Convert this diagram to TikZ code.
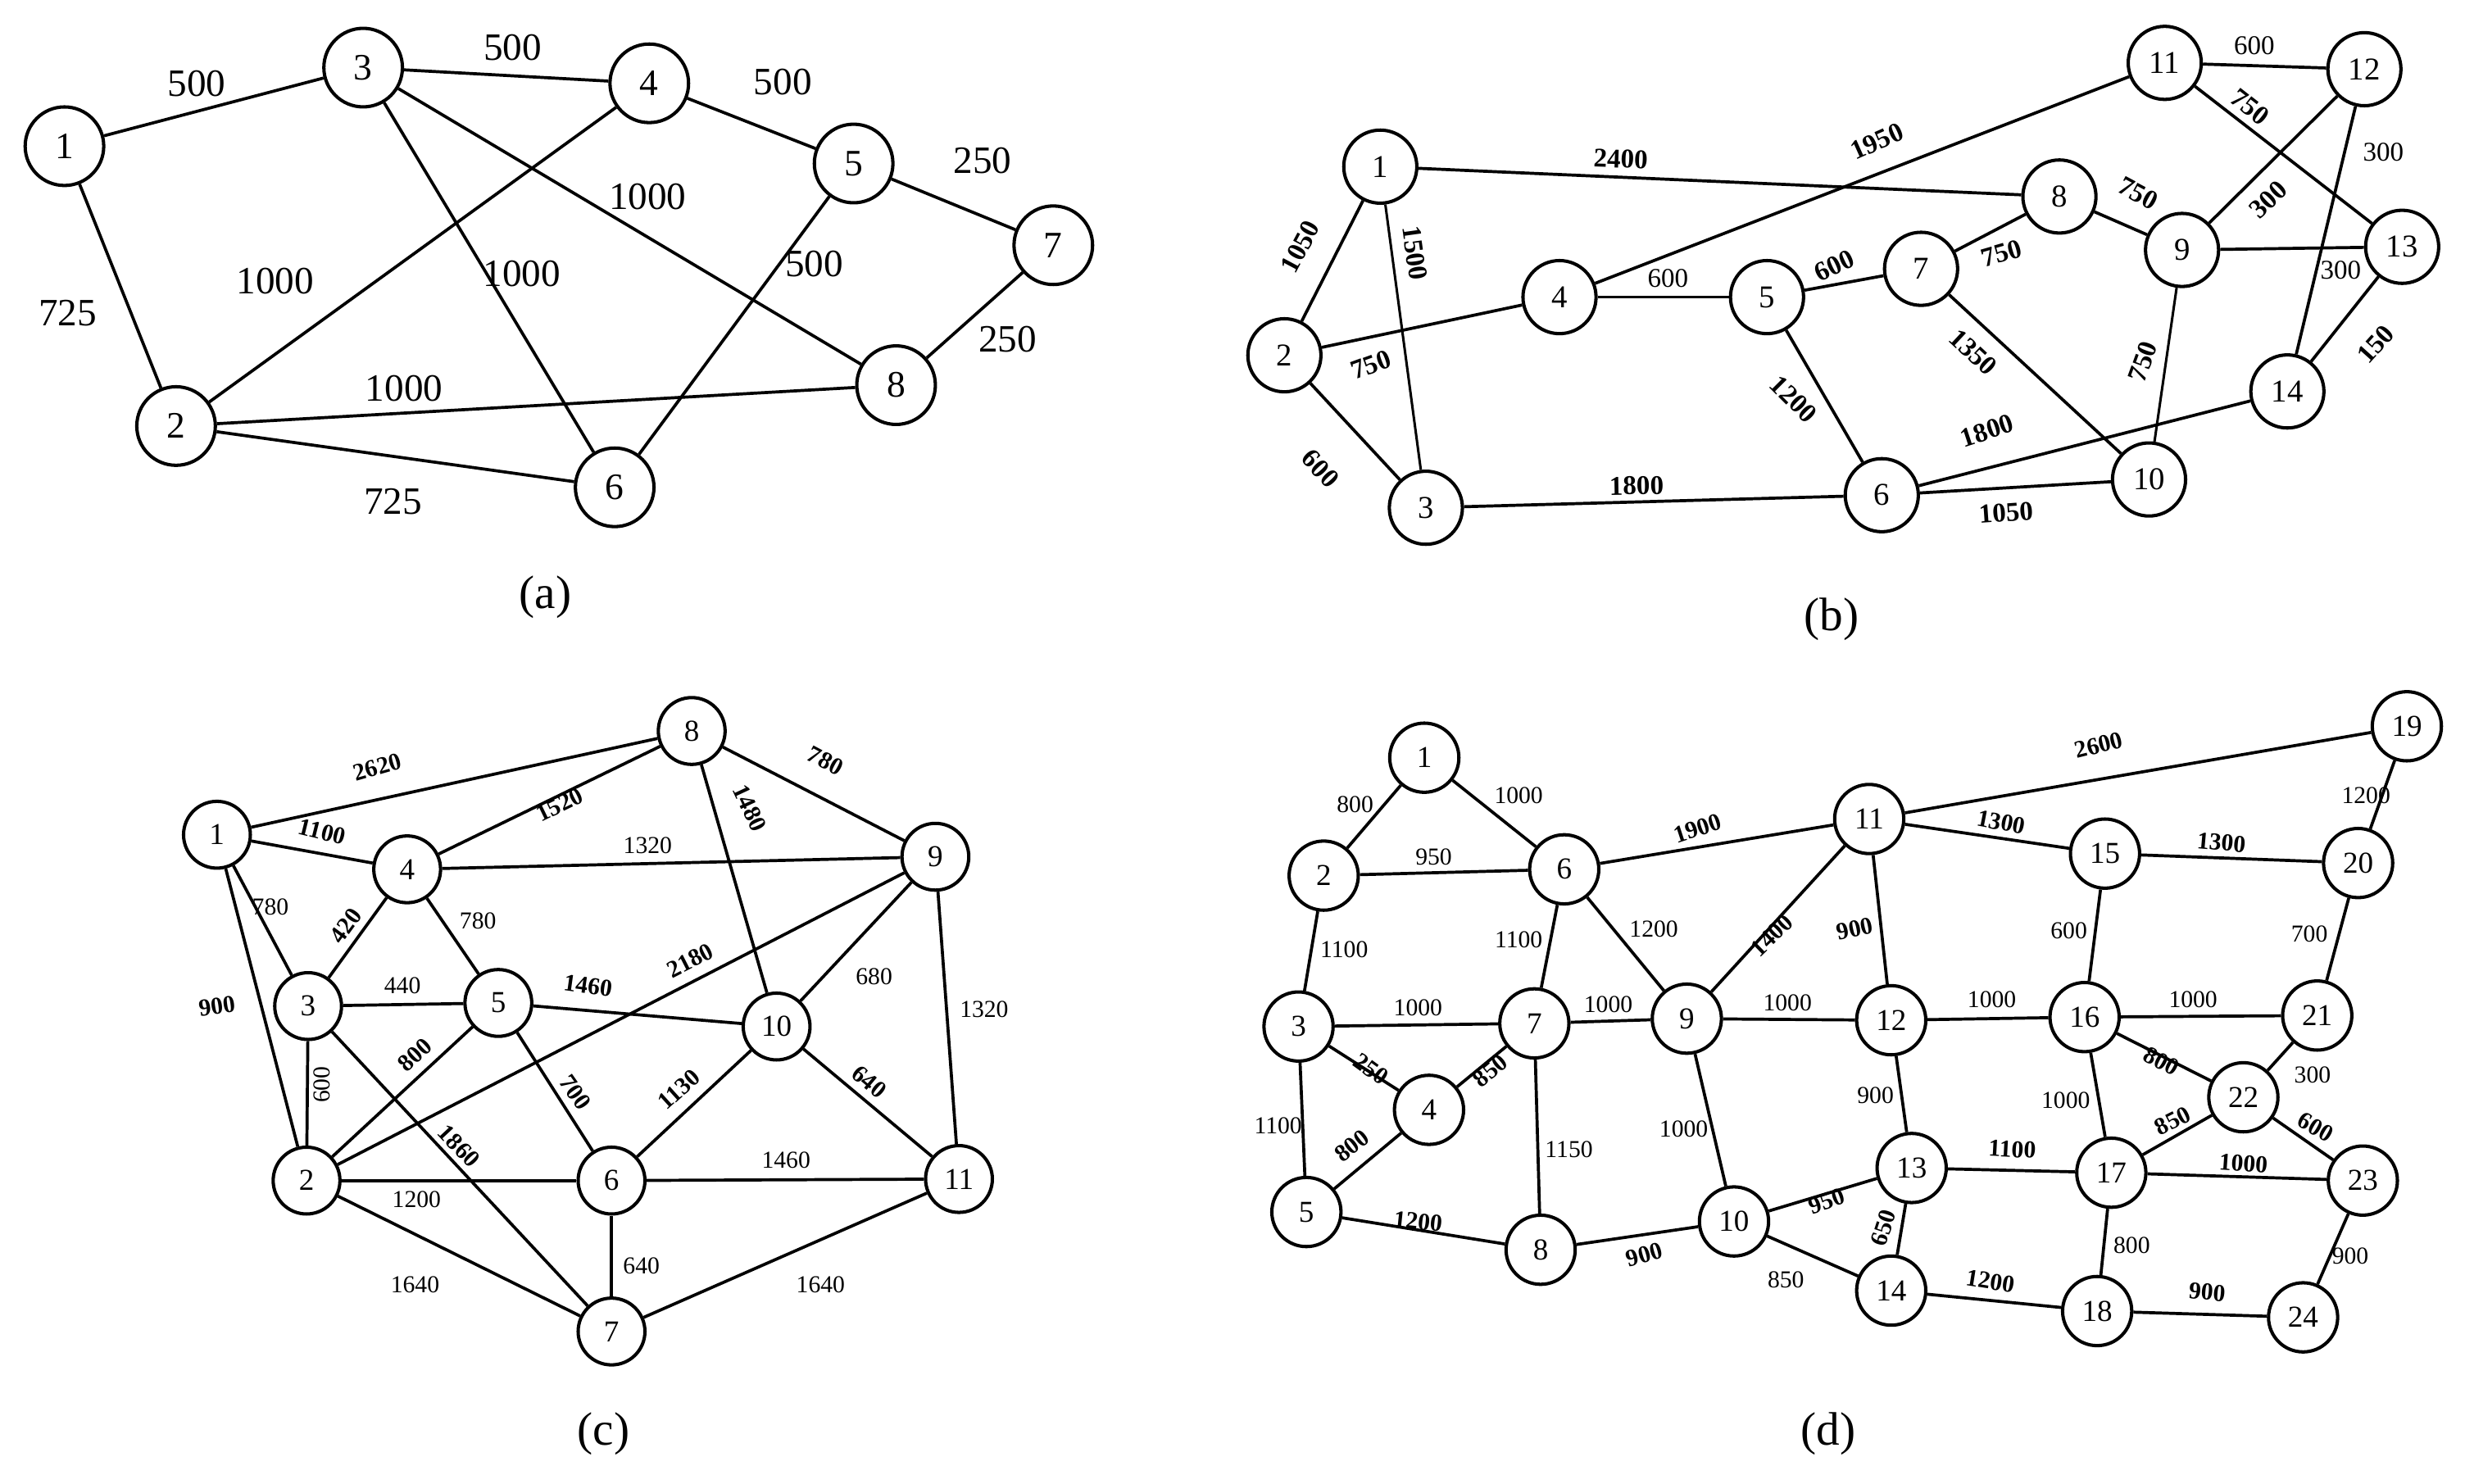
\documentclass[tikz,border=0pt]{standalone}
\usepackage{fontspec}
\setmainfont{Liberation Serif}
\usepackage{tikz}
\usetikzlibrary{positioning}
\tikzstyle{edge} = [line width=1.1pt]
\tikzstyle{vxa} = [circle, draw, line width=1.2pt, minimum size=1cm, inner sep=0pt, font=\fontsize{13.5}{14}\selectfont]
\tikzstyle{vxb} = [circle, draw, line width=1.2pt, minimum size=0.93cm, inner sep=0pt, font=\fontsize{11.5}{12}\selectfont]
\tikzstyle{vxc} = [circle, draw, line width=1.2pt, minimum size=0.85cm, inner sep=0pt, font=\fontsize{11}{12}\selectfont]
\tikzstyle{vxd} = [circle, draw, line width=1.2pt, minimum size=0.88cm, inner sep=0pt, font=\fontsize{11}{12}\selectfont]
\tikzstyle{wa} = [inner sep=1pt, font=\fontsize{14}{14}\selectfont]
\tikzstyle{wb} = [inner sep=1pt, font=\fontsize{9.8}{10}\selectfont]
\tikzstyle{wbb} = [inner sep=1pt, font=\fontsize{9.8}{10}\selectfont\bfseries]
\tikzstyle{wc} = [inner sep=1pt, font=\fontsize{8.8}{9}\selectfont]
\tikzstyle{wcb} = [inner sep=1pt, font=\fontsize{8.8}{9}\selectfont\bfseries]
\tikzstyle{caption} = [font=\fontsize{17}{18}\selectfont]

\begin{document}
\begin{tikzpicture}[x=0.02cm, y=-0.02cm]
\useasboundingbox (0, 0) rectangle (1568, 944);

\node [vxa] (a1) at (41, 93) {1};
\node [vxa] (a2) at (112, 271) {2};
\node [vxa] (a3) at (231, 43) {3};
\node [vxa] (a4) at (413, 53) {4};
\node [vxa] (a5) at (543, 104) {5};
\node [vxa] (a6) at (391, 310) {6};
\node [vxa] (a7) at (670, 156) {7};
\node [vxa] (a8) at (570, 245) {8};

\draw [edge] (a1) to (a3);
\draw [edge] (a3) to (a4);
\draw [edge] (a4) to (a5);
\draw [edge] (a5) to (a7);
\draw [edge] (a7) to (a8);
\draw [edge] (a3) to (a8);
\draw [edge] (a5) to (a6);
\draw [edge] (a3) to (a6);
\draw [edge] (a2) to (a4);
\draw [edge] (a1) to (a2);
\draw [edge] (a2) to (a8);
\draw [edge] (a2) to (a6);

\node [wa] (wa1x3) at (125, 53) {500};
\node [wa] (wa3x4) at (326, 30) {500};
\node [wa] (wa4x5) at (498, 52) {500};
\node [wa] (wa5x7) at (625, 102) {250};
\node [wa] (wa3x8) at (412, 125) {1000};
\node [wa] (wa5x6) at (518, 168) {500};
\node [wa] (wa7x8) at (641, 216) {250};
\node [wa] (wa2x4) at (175, 179) {1000};
\node [wa] (wa3x6) at (332, 174) {1000};
\node [wa] (wa1x2) at (43, 199) {725};
\node [wa] (wa2x8) at (257, 247) {1000};
\node [wa] (wa2x6) at (250, 319) {725};
\node [caption] (capa) at (347, 380) {(a)};

\node [vxb] (b1) at (878, 106) {1};
\node [vxb] (b2) at (817, 226) {2};
\node [vxb] (b3) at (907, 323) {3};
\node [vxb] (b4) at (992, 189) {4};
\node [vxb] (b5) at (1124, 189) {5};
\node [vxb] (b6) at (1197, 315) {6};
\node [vxb] (b7) at (1222, 171) {7};
\node [vxb] (b8) at (1310, 125) {8};
\node [vxb] (b9) at (1388, 159) {9};
\node [vxb] (b10) at (1367, 305) {10};
\node [vxb] (b11) at (1377, 40) {11};
\node [vxb] (b12) at (1504, 44) {12};
\node [vxb] (b13) at (1528, 157) {13};
\node [vxb] (b14) at (1455, 249) {14};

\draw [edge] (b1) to (b8);
\draw [edge] (b1) to (b2);
\draw [edge, line width=0.9pt] (b1) to (b3);
\draw [edge] (b2) to (b4);
\draw [edge] (b2) to (b3);
\draw [edge] (b4) to (b11);
\draw [edge] (b4) to (b5);
\draw [edge] (b5) to (b7);
\draw [edge] (b7) to (b8);
\draw [edge] (b8) to (b9);
\draw [edge] (b7) to (b10);
\draw [edge] (b5) to (b6);
\draw [edge] (b3) to (b6);
\draw [edge] (b6) to (b14);
\draw [edge] (b6) to (b10);
\draw [edge, line width=0.9pt] (b9) to (b10);
\draw [edge] (b9) to (b13);
\draw [edge] (b9) to (b12);
\draw [edge] (b11) to (b12);
\draw [edge] (b11) to (b13);
\draw [edge] (b12) to (b14);
\draw [edge] (b13) to (b14);

\node [wbb, rotate=-2] (wb1x8) at (1031, 101) {2400};
\node [wbb, rotate=24] (wb4x11) at (1194, 90) {1950};
\node [wbb, rotate=62] (wb1x2) at (827, 157) {1050};
\node [wbb, rotate=-82] (wb1x3) at (900, 161) {1500};
\node [wbb, rotate=20] (wb2x4) at (872, 232) {750};
\node [wbb, rotate=-47] (wb2x3) at (840, 298) {600};
\node [wb] (wb4x5) at (1061, 177) {600};
\node [wbb, rotate=25] (wb5x7) at (1167, 169) {600};
\node [wbb, rotate=-45] (wb5x6) at (1141, 254) {1200};
\node [wbb, rotate=1] (wb3x6) at (1041, 309) {1800};
\node [wbb, rotate=16] (wb7x8) at (1273, 161) {750};
\node [wbb, rotate=-28] (wb8x9) at (1360, 123) {750};
\node [wbb, rotate=-43] (wb7x10) at (1255, 224) {1350};
\node [wbb, rotate=70] (wb9x10) at (1363, 230) {750};
\node [wbb, rotate=18] (wb6x14) at (1264, 274) {1800};
\node [wbb, rotate=4] (wb6x10) at (1276, 326) {1050};
\node [wb] (wb11x12) at (1434, 29) {600};
\node [wbb, rotate=-38] (wb11x13) at (1431, 68) {750};
\node [wbb, rotate=44] (wb9x12) at (1443, 127) {300};
\node [wb] (wb12x14) at (1516, 97) {300};
\node [wb] (wb9x13) at (1489, 172) {300};
\node [wbb, rotate=48] (wb13x14) at (1511, 219) {150};
\node [caption] (capb) at (1165, 394) {(b)};

\node [vxc] (c1) at (138, 531) {1};
\node [vxc] (c2) at (195, 751) {2};
\node [vxc] (c3) at (196, 640) {3};
\node [vxc] (c4) at (259, 553) {4};
\node [vxc] (c5) at (317, 638) {5};
\node [vxc] (c6) at (389, 751) {6};
\node [vxc] (c7) at (389, 847) {7};
\node [vxc] (c8) at (440, 465) {8};
\node [vxc] (c9) at (595, 545) {9};
\node [vxc] (c10) at (494, 653) {10};
\node [vxc] (c11) at (610, 750) {11};

\draw [edge] (c1) to (c8);
\draw [edge] (c1) to (c4);
\draw [edge] (c1) to (c3);
\draw [edge] (c1) to (c2);
\draw [edge] (c4) to (c8);
\draw [edge] (c4) to (c9);
\draw [edge] (c3) to (c4);
\draw [edge] (c4) to (c5);
\draw [edge] (c8) to (c9);
\draw [edge] (c8) to (c10);
\draw [edge] (c3) to (c5);
\draw [edge] (c2) to (c3);
\draw [edge] (c3) to (c7);
\draw [edge] (c5) to (c10);
\draw [edge] (c2) to (c5);
\draw [edge] (c5) to (c6);
\draw [edge] (c2) to (c9);
\draw [edge] (c9) to (c10);
\draw [edge] (c9) to (c11);
\draw [edge] (c6) to (c10);
\draw [edge] (c10) to (c11);
\draw [edge] (c2) to (c6);
\draw [edge] (c2) to (c7);
\draw [edge] (c6) to (c11);
\draw [edge] (c6) to (c7);
\draw [edge] (c7) to (c11);

\node [wcb, rotate=16] (wc1x8) at (240, 488) {2620};
\node [wcb, rotate=-14] (wc1x4) at (205, 529) {1100};
\node [wcb, rotate=26] (wc4x8) at (356, 512) {1520};
\node [wcb, rotate=-65] (wc8x10) at (477, 514) {1480};
\node [wcb, rotate=-28] (wc8x9) at (525, 484) {780};
\node [wc] (wc4x9) at (412, 538) {1320};
\node [wc] (wc1x3) at (172, 577) {780};
\node [wcb, rotate=54] (wc3x4) at (220, 589) {420};
\node [wc] (wc4x5) at (304, 586) {780};
\node [wcb, rotate=8] (wc1x2) at (138, 640) {900};
\node [wc] (wc3x5) at (256, 627) {440};
\node [wcb, rotate=-8] (wc5x10) at (374, 627) {1460};
\node [wcb, rotate=27] (wc2x9) at (439, 611) {2180};
\node [wc] (wc9x10) at (556, 621) {680};
\node [wc] (wc9x11) at (626, 642) {1320};
\node [wc, rotate=90] (wc2x3) at (205, 690) {600};
\node [wcb, rotate=43] (wc2x5) at (264, 671) {800};
\node [wcb, rotate=-47] (wc3x7) at (292, 729) {1860};
\node [wcb, rotate=-55] (wc5x6) at (366, 695) {700};
\node [wcb, rotate=42] (wc6x10) at (432, 693) {1130};
\node [wcb, rotate=-40] (wc10x11) at (553, 688) {640};
\node [wc] (wc6x11) at (500, 738) {1460};
\node [wc] (wc2x6) at (265, 763) {1200};
\node [wc] (wc2x7) at (264, 817) {1640};
\node [wc] (wc6x7) at (408, 805) {640};
\node [wc] (wc7x11) at (522, 817) {1640};
\node [caption] (capc) at (384, 912) {(c)};

\node [vxd] (d1) at (906, 482) {1};
\node [vxd] (d2) at (842, 557) {2};
\node [vxd] (d3) at (826, 653) {3};
\node [vxd] (d4) at (909, 706) {4};
\node [vxd] (d5) at (831, 771) {5};
\node [vxd] (d6) at (995, 553) {6};
\node [vxd] (d7) at (976, 651) {7};
\node [vxd] (d8) at (980, 795) {8};
\node [vxd] (d9) at (1073, 648) {9};
\node [vxd] (d10) at (1103, 777) {10};
\node [vxd] (d11) at (1189, 521) {11};
\node [vxd] (d12) at (1203, 649) {12};
\node [vxd] (d13) at (1216, 743) {13};
\node [vxd] (d14) at (1203, 821) {14};
\node [vxd] (d15) at (1339, 543) {15};
\node [vxd] (d16) at (1326, 647) {16};
\node [vxd] (d17) at (1343, 746) {17};
\node [vxd] (d18) at (1334, 834) {18};
\node [vxd] (d19) at (1531, 462) {19};
\node [vxd] (d20) at (1500, 549) {20};
\node [vxd] (d21) at (1474, 646) {21};
\node [vxd] (d22) at (1427, 698) {22};
\node [vxd] (d23) at (1503, 751) {23};
\node [vxd] (d24) at (1465, 838) {24};

\draw [edge] (d1) to (d2);
\draw [edge] (d1) to (d6);
\draw [edge] (d2) to (d6);
\draw [edge] (d2) to (d3);
\draw [edge] (d6) to (d11);
\draw [edge] (d6) to (d7);
\draw [edge] (d6) to (d9);
\draw [edge] (d11) to (d19);
\draw [edge] (d11) to (d15);
\draw [edge] (d9) to (d11);
\draw [edge] (d11) to (d12);
\draw [edge] (d15) to (d20);
\draw [edge] (d19) to (d20);
\draw [edge] (d15) to (d16);
\draw [edge] (d20) to (d21);
\draw [edge] (d3) to (d7);
\draw [edge] (d3) to (d4);
\draw [edge] (d3) to (d5);
\draw [edge] (d7) to (d9);
\draw [edge] (d4) to (d7);
\draw [edge] (d7) to (d8);
\draw [edge] (d4) to (d5);
\draw [edge] (d5) to (d8);
\draw [edge] (d8) to (d10);
\draw [edge] (d9) to (d12);
\draw [edge] (d9) to (d10);
\draw [edge] (d10) to (d13);
\draw [edge] (d10) to (d14);
\draw [edge] (d12) to (d16);
\draw [edge] (d12) to (d13);
\draw [edge] (d13) to (d17);
\draw [edge] (d13) to (d14);
\draw [edge] (d16) to (d21);
\draw [edge] (d16) to (d22);
\draw [edge] (d16) to (d17);
\draw [edge] (d21) to (d22);
\draw [edge] (d17) to (d22);
\draw [edge] (d22) to (d23);
\draw [edge] (d17) to (d23);
\draw [edge] (d17) to (d18);
\draw [edge] (d14) to (d18);
\draw [edge] (d18) to (d24);
\draw [edge] (d23) to (d24);

\node [wc] (wd1x2) at (862, 512) {800};
\node [wc] (wd1x6) at (966, 506) {1000};
\node [wc] (wd2x6) at (912, 545) {950};
\node [wcb, rotate=18] (wd6x11) at (1080, 527) {1900};
\node [wcb, rotate=14] (wd11x19) at (1335, 474) {2600};
\node [wc] (wd19x20) at (1505, 506) {1200};
\node [wcb, rotate=-11] (wd11x15) at (1273, 523) {1300};
\node [wcb, rotate=-5] (wd15x20) at (1413, 536) {1300};
\node [wc] (wd2x3) at (855, 604) {1100};
\node [wc] (wd6x7) at (966, 598) {1100};
\node [wc] (wd6x9) at (1052, 591) {1200};
\node [wcb, rotate=44] (wd9x11) at (1127, 595) {1400};
\node [wcb, rotate=12] (wd11x12) at (1180, 591) {900};
\node [wc] (wd15x16) at (1316, 592) {600};
\node [wc] (wd20x21) at (1469, 594) {700};
\node [wc] (wd3x7) at (902, 641) {1000};
\node [wc] (wd7x9) at (1023, 639) {1000};
\node [wc] (wd9x12) at (1137, 638) {1000};
\node [wc] (wd12x16) at (1267, 636) {1000};
\node [wc] (wd16x21) at (1395, 636) {1000};
\node [wcb, rotate=-36] (wd3x4) at (872, 680) {250};
\node [wcb, rotate=40] (wd4x7) at (948, 681) {850};
\node [wcb, rotate=-28] (wd16x22) at (1375, 675) {800};
\node [wc] (wd21x22) at (1471, 684) {300};
\node [wc] (wd12x13) at (1193, 697) {900};
\node [wc] (wd16x17) at (1314, 700) {1000};
\node [wc] (wd3x5) at (813, 716) {1100};
\node [wc] (wd7x8) at (998, 731) {1150};
\node [wc] (wd9x10) at (1071, 718) {1000};
\node [wcb, rotate=27] (wd17x22) at (1382, 713) {850};
\node [wcb, rotate=-30] (wd22x23) at (1473, 717) {600};
\node [wcb, rotate=38] (wd4x5) at (860, 729) {800};
\node [wcb, rotate=-3] (wd13x17) at (1280, 731) {1100};
\node [wcb, rotate=-4] (wd17x23) at (1427, 740) {1000};
\node [wcb, rotate=20] (wd10x13) at (1162, 764) {950};
\node [wcb, rotate=72] (wd13x14) at (1198, 781) {650};
\node [wcb, rotate=-6] (wd5x8) at (902, 777) {1200};
\node [wcb, rotate=16] (wd8x10) at (1046, 798) {900};
\node [wc] (wd10x14) at (1136, 814) {850};
\node [wcb, rotate=-9] (wd14x18) at (1266, 815) {1200};
\node [wc] (wd17x18) at (1356, 792) {800};
\node [wcb, rotate=-5] (wd18x24) at (1404, 822) {900};
\node [wc] (wd23x24) at (1495, 799) {900};
\node [caption] (capd) at (1163, 912) {(d)};
\end{tikzpicture}
\end{document}
